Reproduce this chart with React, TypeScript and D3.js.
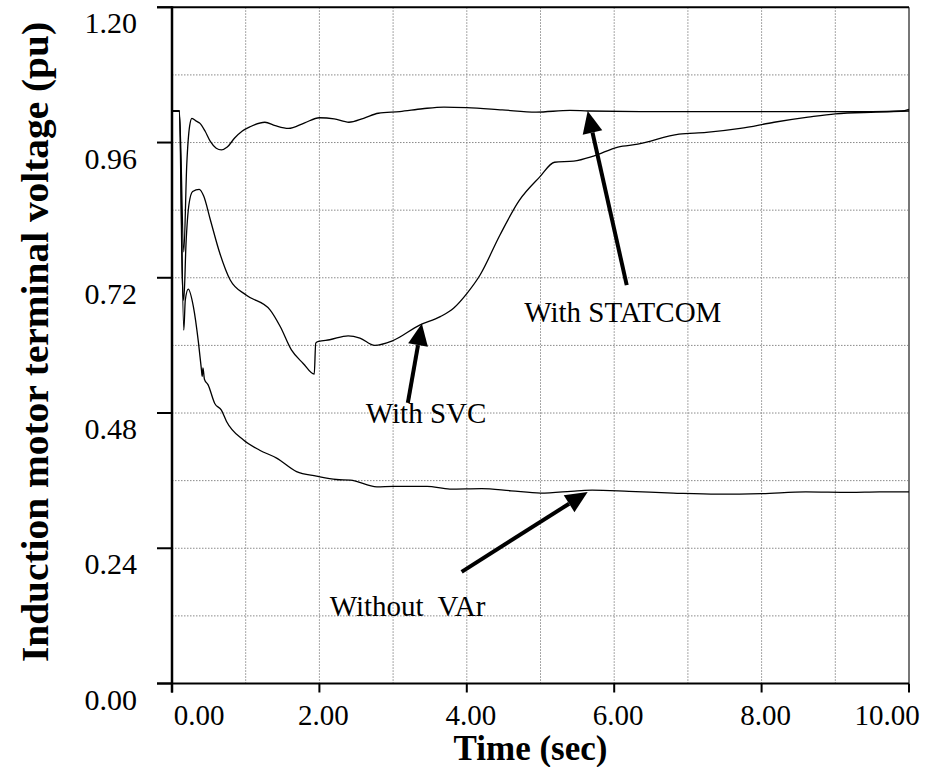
import React from 'react';
import * as d3 from 'd3';

const W = 933;
const H = 767;

const xTicks = [0, 2, 4, 6, 8, 10];
const xGrid = [1, 2, 3, 4, 5, 6, 7, 8, 9];
const yTicks = [0, 0.24, 0.48, 0.72, 0.96, 1.2];
const yGrid = [0.12, 0.24, 0.36, 0.48, 0.6, 0.72, 0.84, 0.96, 1.08];

const statcom: [number, number][] = [
  [0, 1.016], [0.1, 1.016], [0.16, 0.766], [0.2, 0.92], [0.24, 0.99], [0.27, 1.003],
  [0.33, 0.998], [0.38, 0.994], [0.45, 0.98], [0.52, 0.962], [0.6, 0.95], [0.67, 0.947],
  [0.75, 0.952], [0.85, 0.968], [0.95, 0.98], [1.06, 0.988], [1.26, 0.996], [1.4, 0.99],
  [1.58, 0.985], [1.8, 0.995], [2.0, 1.004], [2.2, 1.002], [2.4, 0.996], [2.6, 1.003],
  [2.8, 1.012], [3.09, 1.015], [3.4, 1.02], [3.69, 1.023], [4.0, 1.022], [4.48, 1.018],
  [4.94, 1.014], [5.4, 1.017], [5.65, 1.016], [6.5, 1.015], [7.5, 1.015], [8.5, 1.015],
  [9.5, 1.015], [9.9, 1.016], [10, 1.019],
];

const svc: [number, number][] = [
  [0, 1.016], [0.1, 1.016], [0.14, 0.72], [0.16, 0.68], [0.19, 0.78], [0.23, 0.85],
  [0.28, 0.873], [0.37, 0.877], [0.43, 0.865], [0.52, 0.823], [0.65, 0.763], [0.79, 0.716],
  [1.01, 0.689], [1.33, 0.663], [1.47, 0.633], [1.62, 0.592], [1.78, 0.568], [1.93, 0.549],
  [1.95, 0.604], [1.99, 0.607], [2.14, 0.61], [2.39, 0.617], [2.55, 0.613], [2.75, 0.6],
  [2.99, 0.608], [3.36, 0.636], [3.64, 0.651], [3.82, 0.666], [4.0, 0.692], [4.18, 0.725],
  [4.45, 0.796], [4.71, 0.857], [4.99, 0.899], [5.19, 0.925], [5.45, 0.927], [5.72, 0.936],
  [6.05, 0.952], [6.32, 0.957], [6.88, 0.975], [7.25, 0.978], [7.71, 0.985], [8.17, 0.996],
  [8.63, 1.005], [9.0, 1.011], [9.55, 1.014], [10, 1.016],
];

const withoutVar: [number, number][] = [
  [0, 1.016], [0.1, 1.016], [0.16, 0.627], [0.18, 0.68], [0.22, 0.7], [0.29, 0.669],
  [0.36, 0.604], [0.4, 0.556], [0.41, 0.545], [0.42, 0.56], [0.44, 0.54], [0.49, 0.53],
  [0.58, 0.497], [0.67, 0.485], [0.74, 0.465], [0.97, 0.432], [1.19, 0.414], [1.42, 0.4],
  [1.69, 0.376], [1.96, 0.368], [2.23, 0.362], [2.42, 0.361], [2.78, 0.349], [3.0, 0.35],
  [3.46, 0.35], [3.77, 0.345], [4.2, 0.346], [4.6, 0.342], [5.0, 0.338], [5.5, 0.342],
  [5.7, 0.343], [6.2, 0.341], [6.8, 0.338], [7.4, 0.336], [8.0, 0.337], [8.6, 0.34],
  [9.2, 0.339], [9.6, 0.34], [10, 0.34],
];

// arrows: [tailT, tailV, tipT, tipV]
const arrows: [number, number, number, number][] = [
  [6.17, 0.707, 5.64, 1.016],
  [3.2, 0.498, 3.39, 0.639],
  [3.93, 0.198, 5.64, 0.34],
];

const labels: { text: string; t: number; v: number }[] = [
  { text: 'With STATCOM', t: 4.78, v: 0.642 },
  { text: 'With SVC', t: 2.63, v: 0.462 },
  { text: 'Without  VAr', t: 2.14, v: 0.12 },
];

const FONT = '"Liberation Serif", "Times New Roman", serif';

export default function App() {
  const x = d3.scaleLinear().domain([0, 10]).range([172, 909]);
  const y = d3.scaleLinear().domain([0, 1.2]).range([683.5, 7.3]);
  const line = d3
    .line<[number, number]>()
    .x((d) => x(d[0]))
    .y((d) => y(d[1]))
    .curve(d3.curveMonotoneX);

  const x0 = x(0);
  const x1 = x(10);
  const yb = y(0);
  const yt = y(1.2);

  const tickDx = (i: number) => (i === 0 ? 27 : i === xTicks.length - 1 ? -22 : 4);

  return (
    <svg
      width={W}
      height={H}
      viewBox={`0 0 ${W} ${H}`}
      style={{ position: 'absolute', left: 0, top: 0, background: '#fff' }}
    >
      <rect x={0} y={0} width={W} height={H} fill="#fff" />
      {/* grid */}
      {xGrid.map((t) => (
        <line key={'gx' + t} x1={x(t)} x2={x(t)} y1={yt} y2={yb} stroke="#8a8a8a" strokeWidth={1} strokeDasharray="1.5,1.5" />
      ))}
      {yGrid.map((v) => (
        <line key={'gy' + v} x1={x0} x2={x1} y1={y(v)} y2={y(v)} stroke="#8a8a8a" strokeWidth={1} strokeDasharray="1.5,1.5" />
      ))}
      {/* frame */}
      <line x1={x1} x2={x1} y1={yt} y2={yb} stroke="#777" strokeWidth={2} />
      <line x1={x0 - 15} x2={x1} y1={yt} y2={yt} stroke="#000" strokeWidth={2} />
      <line x1={x0 - 15} x2={x1} y1={yb} y2={yb} stroke="#000" strokeWidth={2} />
      <line x1={x0} x2={x0} y1={yt - 1} y2={yb + 9} stroke="#000" strokeWidth={2.5} />
      {/* y ticks */}
      {yTicks.map((v) => (
        <g key={'yt' + v}>
          <line x1={x0 - 15} x2={x0} y1={y(v)} y2={y(v)} stroke="#000" strokeWidth={2} />
          <text x={137} y={y(v) + 26} textAnchor="end" fontFamily={FONT} fontSize={30} fill="#000">
            {v.toFixed(2)}
          </text>
        </g>
      ))}
      {/* x ticks */}
      {xTicks.map((t, i) => (
        <g key={'xt' + t}>
          <line x1={x(t)} x2={x(t)} y1={yb} y2={yb + 9} stroke="#000" strokeWidth={2} />
          <text x={x(t) + tickDx(i)} y={725} textAnchor="middle" fontFamily={FONT} fontSize={29} fill="#000">
            {t.toFixed(2)}
          </text>
        </g>
      ))}
      {/* series */}
      {[withoutVar, svc, statcom].map((s, i) => (
        <path key={'s' + i} d={line(s) || ''} fill="none" stroke="#000" strokeWidth={1.3} />
      ))}
      {/* arrows */}
      {arrows.map((a, i) => {
        const tx = x(a[0]);
        const ty = y(a[1]);
        const hx = x(a[2]);
        const hy = y(a[3]);
        const ang = Math.atan2(hy - ty, hx - tx);
        const hl = 22;
        const hw = 10;
        const bx = hx - hl * Math.cos(ang);
        const by = hy - hl * Math.sin(ang);
        const px = -Math.sin(ang);
        const py = Math.cos(ang);
        const pts = `${hx},${hy} ${bx + hw * px},${by + hw * py} ${bx - hw * px},${by - hw * py}`;
        return (
          <g key={'a' + i}>
            <line x1={tx} y1={ty} x2={bx} y2={by} stroke="#000" strokeWidth={4} />
            <polygon points={pts} fill="#000" />
          </g>
        );
      })}
      {/* labels */}
      {labels.map((l) => (
        <text key={l.text} x={x(l.t)} y={y(l.v)} fontFamily={FONT} fontSize={29} fill="#000" style={{ whiteSpace: 'pre' }}>
          {l.text}
        </text>
      ))}
      {/* axis titles */}
      <text x={(x0 + x1) / 2 - 10} y={760} textAnchor="middle" fontFamily={FONT} fontSize={35} fontWeight="bold" fill="#000">
        Time (sec)
      </text>
      <text
        transform={`translate(48, 342) rotate(-90)`}
        textAnchor="middle"
        fontFamily={FONT}
        fontSize={38}
        fontWeight="bold"
        fill="#000"
        textLength={640}
        lengthAdjust="spacingAndGlyphs"
      >
        Induction motor terminal voltage (pu)
      </text>
    </svg>
  );
}
